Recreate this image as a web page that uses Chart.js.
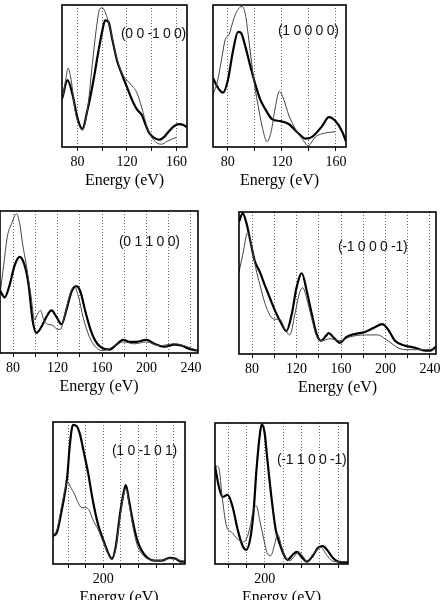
<!DOCTYPE html>
<html>
<head>
<meta charset="utf-8">
<script src="https://cdn.jsdelivr.net/npm/chart.js@4.4.0/dist/chart.umd.min.js"></script>
<style>
html, body { margin: 0; padding: 0; background: #fff; width: 444px; height: 600px; overflow: hidden; }
body { position: relative; }
canvas { position: absolute; }
.lbl { position: absolute; font: 14px "Liberation Sans", Arial, sans-serif; color: #111; white-space: nowrap; line-height: 14px; letter-spacing: -0.3px; }
</style>
</head>
<body>
<script>
// panel names
const panelNames = ['(0 0 -1 0 0)', '(1 0 0 0 0)', '(0 1 1 0 0)', '(-1 0 0 0 -1)', '(1 0 -1 0 1)', '(-1 1 0 0 -1)'];

// (0 0 -1 0 0)
const thickE1 = [68,72,76,80,84,88,93,97,100,102.4,105,108,112,116,120,124,128,132,135,138,142,146,150,154,158,162,165.6,168];
const thickI1 = [0.345,0.47,0.37,0.20,0.12,0.25,0.47,0.68,0.82,0.90,0.89,0.77,0.61,0.51,0.42,0.33,0.26,0.22,0.15,0.09,0.056,0.042,0.063,0.105,0.14,0.155,0.148,0.134];
const thinE1 = [68,70.5,72.5,75,78,80,84,88,92,95,98,100,104,108,112,116,120,124,128,132,136,140,144,148,152,156,160];
const thinI1 = [0.33,0.47,0.556,0.47,0.26,0.18,0.11,0.25,0.58,0.82,0.98,0.99,0.92,0.78,0.62,0.52,0.47,0.43,0.38,0.27,0.14,0.06,0.02,0.01,0.03,0.045,0.06];

// (1 0 0 0 0)
const thickE2 = [69,72.7,76.4,80,83.8,87.5,89.7,92.7,96.4,100.3,104,107.8,112.7,118.9,125,132.5,137.4,142.3,149.7,154.7,159.6,164.6,167.4];
const thickI2 = [0.486,0.415,0.38,0.47,0.68,0.817,0.81,0.72,0.58,0.44,0.33,0.26,0.19,0.176,0.155,0.085,0.05,0.063,0.14,0.204,0.176,0.1,0.03];
const thinE2 = [69,72,75,78,81,84,87,90.5,93,95,97.5,100,102.5,105.3,109,112,115,118.1,121.4,125,128.8,132,134.9,139.4,144.8,149.7,155,159.6];
const thinI2 = [0.37,0.45,0.6,0.76,0.8,0.9,0.97,1.0,0.94,0.8,0.6,0.42,0.28,0.14,0.028,0.1,0.27,0.39,0.33,0.22,0.14,0.085,0.05,0.0,0.063,0.085,0.095,0.1];

// (0 1 1 0 0)
const thickE3 = [68.3,72.5,77,81.5,86,90.4,94,97.6,101,105.7,110,114.6,119,123.6,128,132.6,137,140.6,145,149.6,154,159.5,166.6,173,179,184.6,191,200,207,216,225,232,238,246];
const thickI3 = [0.44,0.39,0.48,0.62,0.68,0.62,0.48,0.225,0.134,0.18,0.25,0.296,0.25,0.197,0.30,0.43,0.47,0.43,0.29,0.16,0.077,0.028,0.014,0.05,0.085,0.07,0.07,0.085,0.056,0.035,0.05,0.042,0.02,0.007];
const thinE3 = [68.3,71.6,75,78.8,83,86,88.6,92,96,99.4,102,104.8,107.5,111,115.5,120,122.7,126,130.8,135,139,143,148.7,154,160,166.6,173,179,189,200,211.5,225,234,246];
const thinI3 = [0.41,0.62,0.83,0.92,0.99,0.92,0.775,0.62,0.41,0.23,0.27,0.296,0.23,0.197,0.19,0.16,0.16,0.246,0.40,0.47,0.39,0.246,0.106,0.035,0.007,0.02,0.05,0.07,0.056,0.07,0.042,0.056,0.042,0.007];

// (-1 0 0 0 -1)
const thickE4 = [68.3,71.6,75,78.8,82.4,87,91.4,96,101,106.7,111,115.7,120,124.8,129,133.8,138,142,146.5,149,153.6,159,165,172.5,181.5,190.5,197,202,208.5,217.5,226.6,235.6,240,245.4];
const thickI4 = [0.94,1.0,0.93,0.79,0.66,0.58,0.486,0.394,0.296,0.204,0.155,0.275,0.465,0.57,0.45,0.275,0.134,0.085,0.12,0.14,0.106,0.07,0.113,0.134,0.148,0.183,0.204,0.17,0.085,0.05,0.035,0.014,0.014,0.042];
const thinE4 = [68.3,71.6,76,79.7,83.3,87,91.4,96,100.4,105,109.4,114,118.5,123,125.7,129,133.8,138,142.8,150,159,168,181.5,193,199.5,206,213,222,235.6,245.4];
const thinI4 = [0.58,0.70,0.86,0.77,0.61,0.49,0.36,0.27,0.24,0.24,0.17,0.127,0.275,0.437,0.465,0.394,0.24,0.12,0.085,0.1,0.085,0.113,0.127,0.127,0.1,0.063,0.028,0.021,0.021,0.028];

// (1 0 -1 0 1)
const thickE5 = [143,147.6,153,159,162,165.6,170,173.6,178,182.6,188,194,199.5,205,209.7,214,218.8,222,225.5,229,233,238,243.6,250,258,266,275,282,287.7,292.5];
const thickI5 = [0.19,0.22,0.38,0.61,0.84,0.99,0.98,0.92,0.79,0.65,0.45,0.275,0.17,0.077,0.028,0.113,0.345,0.47,0.556,0.45,0.31,0.17,0.085,0.035,0.014,0.014,0.035,0.028,0.007,0.007];
const thinE5 = [143,147.6,153,157.7,160,163.4,166.8,171,175.8,180,183.7,188,194,199.5,205,209.7,214,218.8,222,225.5,229,233,238,243.6,252.7,264,275,284,292.5];
const thinI5 = [0.19,0.24,0.415,0.556,0.577,0.535,0.5,0.437,0.394,0.394,0.38,0.31,0.24,0.155,0.07,0.02,0.1,0.324,0.45,0.535,0.43,0.275,0.134,0.063,0.021,0.014,0.028,0.021,0.007];

// (-1 1 0 0 -1)
const thickE6 = [145.8,149.7,154,159.6,165,170.5,176,180,184.7,188,191,194.5,196.7,200,203,207.7,212,216.4,222,225,230.6,235,240,246,252.5,258,263.4,268.9,274.3,280,290.9];
const thickI6 = [0.70,0.56,0.475,0.49,0.404,0.24,0.12,0.092,0.19,0.38,0.667,0.915,1.0,0.936,0.74,0.454,0.24,0.135,0.043,0.02,0.057,0.078,0.043,0.007,0.05,0.106,0.12,0.085,0.035,0.007,0.0];
const thinE6 = [145.8,149.7,154,158.5,164,170.5,176,180,184.7,188,191,194.5,199,203,206.5,211,214,218.6,222,227.3,233,237,241.5,246,252.5,258,261,266.7,272,276.5,290.9];
const thinI6 = [0.70,0.69,0.454,0.26,0.22,0.17,0.15,0.17,0.277,0.397,0.41,0.31,0.17,0.064,0.05,0.135,0.206,0.113,0.05,0.014,0.05,0.078,0.05,0.007,0.057,0.1,0.113,0.064,0.021,0.007,0.007];

const thicks = [[thickE1, thickI1], [thickE2, thickI2], [thickE3, thickI3], [thickE4, thickI4], [thickE5, thickI5], [thickE6, thickI6]];
const thins = [[thinE1, thinI1], [thinE2, thinI2], [thinE3, thinI3], [thinE4, thinI4], [thinE5, thinI5], [thinE6, thinI6]];
const xMins = [67.6, 69, 68.3, 68.3, 143, 145.8];
const xMaxs = [168.4, 167.4, 246.3, 245.4, 292.5, 290.9];

// box = left, top, width, height ; name = left, top
const layout = [
  {box: [62, 5, 125, 142], name: [121, 26], labelEvery: 40},
  {box: [213, 5, 133, 142], name: [278, 23], labelEvery: 40},
  {box: [0, 211, 198, 142], name: [119, 234], labelEvery: 40},
  {box: [239, 212, 197, 142], name: [338, 239], labelEvery: 40},
  {box: [53, 422, 132, 142], name: [112, 443], labelEvery: 200},
  {box: [215, 423, 133, 141], name: [277, 452], labelEvery: 200}
];

const PAD = 14, AXIS_H = 46;

const frame = {
  id: 'frame',
  afterDraw(chart) {
    const a = chart.chartArea, ctx = chart.ctx;
    ctx.save();
    ctx.strokeStyle = '#000';
    ctx.lineWidth = 1.6;
    ctx.strokeRect(a.left, a.top, a.right - a.left, a.bottom - a.top);
    ctx.restore();
  }
};

function pts(pair) {
  return pair[0].map((e, i) => ({x: e, y: pair[1][i]}));
}

layout.forEach((p, k) => {
  const [bl, bt, bw, bh] = p.box;
  const cv = document.createElement('canvas');
  cv.width = bw + PAD * 2;
  cv.height = bh + 4 + AXIS_H;
  cv.style.left = (bl - PAD) + 'px';
  cv.style.top = (bt - 4) + 'px';
  document.body.appendChild(cv);

  new Chart(cv, {
    type: 'line',
    data: {
      datasets: [
        {data: pts(thins[k]), borderColor: '#444', borderWidth: 1, pointRadius: 0, cubicInterpolationMode: 'monotone', fill: false},
        {data: pts(thicks[k]), borderColor: '#000', borderWidth: 2.2, pointRadius: 0, cubicInterpolationMode: 'monotone', fill: false}
      ]
    },
    options: {
      responsive: false,
      animation: false,
      layout: {padding: {left: PAD, right: PAD, top: 4, bottom: 0}},
      plugins: {legend: {display: false}, tooltip: {enabled: false}},
      scales: {
        x: {
          type: 'linear',
          min: xMins[k],
          max: xMaxs[k],
          afterFit(s) { s.height = AXIS_H; },
          border: {display: false, dash: [1, 2]},
          grid: {color: '#666', lineWidth: 1, drawTicks: true, tickLength: 4, tickColor: '#000'},
          ticks: {
            stepSize: 20,
            includeBounds: false,
            autoSkip: false,
            maxRotation: 0,
            padding: 3,
            color: '#000',
            font: {family: '"Liberation Serif", "DejaVu Serif", serif', size: 14},
            callback: v => (v % p.labelEvery === 0 ? String(v) : '')
          },
          title: {
            display: true,
            text: 'Energy (eV)',
            color: '#000',
            padding: {top: 0, bottom: 3},
            font: {family: '"Liberation Serif", "DejaVu Serif", serif', size: 16}
          }
        },
        y: {display: false, min: -0.01, max: 1.01}
      }
    },
    plugins: [frame]
  });

  const d = document.createElement('div');
  d.className = 'lbl';
  d.textContent = panelNames[k];
  d.style.left = p.name[0] + 'px';
  d.style.top = p.name[1] + 'px';
  document.body.appendChild(d);
});
</script>
</body>
</html>
